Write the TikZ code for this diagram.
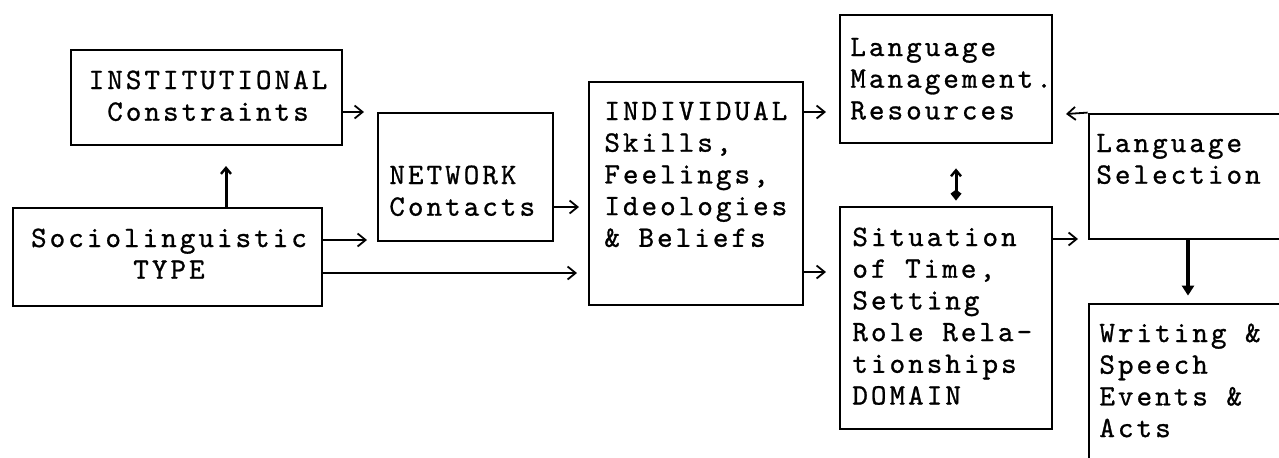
\documentclass[tikz,border=0pt]{standalone}
\usepackage{fontspec}
\newfontfamily\typewriter{lmmono10-regular}[Extension=.otf,LetterSpace=10.3,FakeBold=0.9]
\usetikzlibrary{arrows.meta,fit}
% left-aligned and centred stacks of lines whose baseline is the first line
\newcommand\leftlines[1]{\vtop{\halign{##\hfil\cr#1\crcr}}}
\newcommand\midlines[1]{\vtop{\halign{\hfil##\hfil\cr#1\crcr}}}
\begin{document}
\begin{tikzpicture}[x=0.5pt,y=-0.5pt,
  box/.style={draw,line width=1.4pt,inner sep=0pt},
  txt/.style={font=\typewriter\fontsize{14.8}{15.85}\selectfont,inner sep=0pt},
  typed/.style={line width=0.9pt,-{Straight Barb[length=4pt,width=6.5pt,line width=0.9pt]}},
  upline/.style={line width=1.5pt,-{Straight Barb[length=3pt,width=5pt,line width=1.2pt]}},
  bothline/.style={line width=1.5pt,{Straight Barb[length=3pt,width=5pt,line width=1.2pt]}-{Kite[length=5.5pt,width=5.5pt,inset=2pt]}},
  downline/.style={line width=1.6pt,-{Triangle[length=5pt,width=6pt]}}]
\useasboundingbox (0,0) rectangle (1279,457);
\clip (0,0) rectangle (1279,457);

% boxes
\node[box,fit={(71,50) (342,145)}] (inst) {};
\node[box,fit={(13,208) (322,306)}] (soc) {};
\node[box,fit={(378,113) (553,241)}] (net) {};
\node[box,fit={(589,82) (803,305)}] (ind) {};
\node[box,fit={(840,15) (1052,143)}] (lmr) {};
\node[box,fit={(840,207) (1052,429)}] (sit) {};
\node[box,fit={(1089,114) (1340,239)}] (sel) {};
\node[box,fit={(1089,304) (1340,520)}] (wri) {};

% texts
\node[txt,anchor=base] (inst-t) at (208,89) {\midlines{INSTITUTIONAL\cr Constraints}};
\node[txt,anchor=base] (soc-t) at (169,247) {\midlines{Sociolinguistic\cr TYPE}};
\node[txt,anchor=base west] (net-t) at (389,184) {\leftlines{NETWORK\cr Contacts}};
\node[txt,anchor=base west] (ind-t) at (604,120) {\leftlines{INDIVIDUAL\cr Skills,\cr Feelings,\cr Ideologies\cr \& Beliefs}};
\node[txt,anchor=base west] (lmr-t) at (850,56) {\leftlines{Language\cr Management.\cr Resources}};
\node[txt,anchor=base west] (sit-t) at (852,246) {\leftlines{Situation\cr of Time,\cr Setting\cr Role Rela-\cr tionships\cr DOMAIN}};
\node[txt,anchor=base west] (sel-t) at (1096,152) {\leftlines{Language\cr Selection}};
\node[txt,anchor=base west] (wri-t) at (1099,342) {\leftlines{Writing \&\cr Speech\cr Events \&\cr Acts}};

% free ends of the short typed arrows
\coordinate (inst-o) at (364,112);
\coordinate (soc-a) at (367,240);
\coordinate (soc-b) at (577,273);
\coordinate (net-o) at (579,207);
\coordinate (ind-a) at (826,112);
\coordinate (ind-b) at (826,272);
\coordinate (sit-o) at (1078,239);
\coordinate (sel-o) at (1066,114);
\coordinate (up-x) at (226,166);
\coordinate (dbl-x) at (956,0);
\coordinate (dn-x) at (1188,0);

\draw[typed] (inst.east |- inst-o) -- (inst-o);
\draw[typed] (soc.east |- soc-a) -- (soc-a);
\draw[typed] (soc.east |- soc-b) -- (soc-b);
\draw[typed] (net.east |- net-o) -- (net-o);
\draw[typed] (ind.east |- ind-a) -- (ind-a);
\draw[typed] (ind.east |- ind-b) -- (ind-b);
\draw[typed] (sit.east |- sit-o) -- (sit-o);
\draw[typed] (sel.north west) -- (sel-o);

\draw[upline] (soc.north -| up-x) -- (up-x);
\draw[bothline,shorten <=12pt,shorten >=2.5pt] (lmr.south -| dbl-x) -- (sit.north -| dbl-x);
\draw[downline,shorten >=3.5pt] (sel.south -| dn-x) -- (wri.north -| dn-x);
\end{tikzpicture}
\end{document}
